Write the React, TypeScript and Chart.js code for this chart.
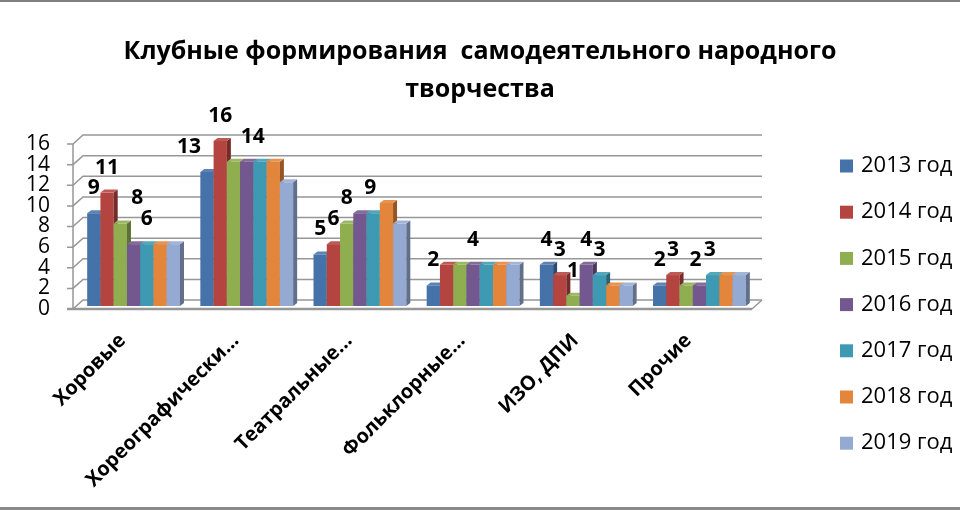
import { useEffect, useRef } from "react";
import { Chart, registerables } from "chart.js";

Chart.register(...registerables);

const categories = ["Хоровые", "Хореографически...", "Театральные...", "Фольклорные...", "ИЗО, ДПИ", "Прочие"];
const seriesNames = ["2013 год", "2014 год", "2015 год", "2016 год", "2017 год", "2018 год", "2019 год"];
const y2013 = [9, 13, 5, 2, 4, 2];
const y2014 = [11, 16, 6, 4, 3, 3];
const y2015 = [8, 14, 8, 4, 1, 2];
const y2016 = [6, 14, 9, 4, 4, 2];
const y2017 = [6, 14, 9, 4, 3, 3];
const y2018 = [6, 14, 10, 4, 2, 3];
const y2019 = [6, 12, 8, 4, 2, 3];
const seriesValues = [y2013, y2014, y2015, y2016, y2017, y2018, y2019];
const yTicks = [0, 2, 4, 6, 8, 10, 12, 14, 16];
const titleLines = ["Клубные формирования  самодеятельного народного", "творчества"];

// which bars carry a value label: [category index, series index]
const labelledPoints: [number, number][] = [
  [0, 0], [0, 1], [0, 2], [0, 4],
  [1, 0], [1, 1], [1, 3],
  [2, 0], [2, 1], [2, 2], [2, 4],
  [3, 0], [3, 3],
  [4, 0], [4, 1], [4, 2], [4, 3], [4, 4],
  [5, 0], [5, 1], [5, 3], [5, 4],
];

// styling / layout (not data)
const colors = ["#4672AA", "#B4443F", "#8FAE50", "#72588F", "#3E9AB2", "#E3853A", "#95AAD3"];
const FONT = "'Open Sans', 'Noto Sans', sans-serif";
const BAR_SHIFT = { x: 4, y: -3 };
const BAR_DEPTH = { x: 4, y: 3 };
const WALL = { x: 10, y: 9 };
const labelNudge: Record<string, number> = { "0-2": 17, "1-0": -18, "1-3": 6, "2-4": -3, "5-3": -4, "5-4": -3 };

function shade(hex: string, f: number) {
  const n = parseInt(hex.slice(1), 16);
  let r = (n >> 16) & 255, g = (n >> 8) & 255, b = n & 255;
  if (f < 0) {
    r = Math.round(r * (1 + f)); g = Math.round(g * (1 + f)); b = Math.round(b * (1 + f));
  } else {
    r = Math.round(r + (255 - r) * f); g = Math.round(g + (255 - g) * f); b = Math.round(b + (255 - b) * f);
  }
  return `rgb(${r},${g},${b})`;
}

const framePlugin = {
  id: "frame",
  beforeDraw(chart: any) {
    const { ctx, width, height } = chart;
    ctx.save();
    ctx.fillStyle = "#ffffff";
    ctx.fillRect(0, 0, width, height);
    ctx.fillStyle = "#7f7f7f";
    ctx.fillRect(0, 0, width, 2);
    ctx.fillStyle = "#8a8a8a";
    ctx.fillRect(0, height - 3, width, 3);
    ctx.restore();
  },
  beforeDatasetsDraw(chart: any) {
    const { ctx, chartArea } = chart;
    const ys = chart.scales.y;
    const { left, right } = chartArea;
    ctx.save();
    ctx.strokeStyle = "#979797";
    ctx.lineWidth = 1.5;
    yTicks.forEach((v) => {
      const y = ys.getPixelForValue(v);
      ctx.beginPath();
      ctx.moveTo(left - 6, y);
      ctx.lineTo(left, y);
      ctx.lineTo(left + WALL.x, y - WALL.y);
      ctx.lineTo(right + WALL.x, y - WALL.y);
      ctx.stroke();
    });
    ctx.beginPath();
    ctx.moveTo(left, ys.getPixelForValue(yTicks[yTicks.length - 1]));
    ctx.lineTo(left, ys.getPixelForValue(0));
    ctx.stroke();
    const y0 = ys.getPixelForValue(0);
    ctx.beginPath();
    ctx.moveTo(right, y0);
    ctx.lineTo(right + WALL.x, y0 - WALL.y);
    ctx.stroke();
    ctx.lineWidth = 2.5;
    ctx.beginPath();
    ctx.moveTo(left - 6, y0);
    ctx.lineTo(right, y0);
    ctx.stroke();
    ctx.restore();
  },
  afterDatasetsDraw(chart: any) {
    const { ctx } = chart;
    ctx.save();
    ctx.translate(BAR_SHIFT.x, BAR_SHIFT.y);
    chart.data.datasets.forEach((ds: any, di: number) => {
      const meta = chart.getDatasetMeta(di);
      const c = colors[di];
      meta.data.forEach((bar: any) => {
        const { x, y, base, width } = bar.getProps(["x", "y", "base", "width"], true);
        const l = x - width / 2;
        const r = x + width / 2;
        const dx = BAR_DEPTH.x, dy = BAR_DEPTH.y;
        ctx.fillStyle = c;
        ctx.fillRect(l, y, r - l, base - y);
        ctx.fillStyle = shade(c, -0.35);
        ctx.beginPath();
        ctx.moveTo(r, y); ctx.lineTo(r + dx, y - dy); ctx.lineTo(r + dx, base - dy); ctx.lineTo(r, base);
        ctx.closePath(); ctx.fill();
        ctx.fillStyle = shade(c, 0.12);
        ctx.beginPath();
        ctx.moveTo(l, y); ctx.lineTo(l + dx, y - dy); ctx.lineTo(r + dx, y - dy); ctx.lineTo(r, y);
        ctx.closePath(); ctx.fill();
      });
    });
    ctx.restore();

    ctx.save();
    ctx.font = `bold 21px ${FONT}`;
    ctx.fillStyle = "#000";
    ctx.textAlign = "center";
    ctx.textBaseline = "middle";
    labelledPoints.forEach(([ci, si]) => {
      const bar = chart.getDatasetMeta(si).data[ci];
      const { x, y } = bar.getProps(["x", "y"], true);
      const nudge = labelNudge[`${ci}-${si}`] || 0;
      ctx.fillText(String(seriesValues[si][ci]), x + BAR_SHIFT.x + nudge, y + BAR_SHIFT.y - 25);
    });
    ctx.restore();

    const { chartArea } = chart;
    ctx.save();
    ctx.font = `22px ${FONT}`;
    ctx.textBaseline = "middle";
    ctx.textAlign = "left";
    chart.data.datasets.forEach((ds: any, di: number) => {
      const cy = 166 + di * 46.2;
      const lx = chartArea.right + 88;
      ctx.fillStyle = colors[di];
      ctx.fillRect(lx, cy - 6.5, 13, 13);
      ctx.fillStyle = "#000";
      ctx.fillText(ds.label, lx + 21, cy);
    });
    ctx.restore();
  },
};

export default function App() {
  const ref = useRef<HTMLCanvasElement | null>(null);
  useEffect(() => {
    if (!ref.current) return;
    const chart = new Chart(ref.current, {
      type: "bar",
      data: {
        labels: categories,
        datasets: seriesValues.map((vals, i) => ({
          label: seriesNames[i],
          data: vals,
          backgroundColor: "rgba(0,0,0,0)",
          borderWidth: 0,
          categoryPercentage: 0.82,
          barPercentage: 1,
        })),
      },
      options: {
        animation: false,
        responsive: true,
        maintainAspectRatio: false,
        layout: { padding: 0 },
        plugins: {
          legend: { display: false },
          tooltip: { enabled: false },
          title: {
            display: true,
            text: titleLines,
            color: "#000",
            font: { family: FONT, size: 25, weight: "bold", lineHeight: 1.52 },
            padding: { top: 33, bottom: 35 },
          },
        },
        scales: {
          x: {
            grid: { display: false, drawTicks: false },
            border: { display: false },
            ticks: {
              color: "#000",
              font: { family: FONT, size: 20, weight: "bold" },
              minRotation: 45,
              maxRotation: 45,
              padding: 20,
              labelOffset: -7,
              autoSkip: false,
            },
            afterFit(s: any) { s.height = 201; },
          },
          y: {
            min: 0,
            max: 16,
            grid: { display: false, drawTicks: false },
            border: { display: false },
            ticks: {
              stepSize: 2,
              autoSkip: false,
              color: "#000",
              font: { family: FONT, size: 21, lineHeight: 1 },
              padding: 23,
            },
            afterFit(s: any) { s.width = 73; },
          },
          spacer: {
            position: "right",
            display: true,
            grid: { display: false, drawTicks: false },
            border: { display: false },
            ticks: { display: false },
            afterFit(s: any) { s.width = 208; },
          },
        },
      },
      plugins: [framePlugin],
    });
    return () => chart.destroy();
  }, []);
  return (
    <div style={{ position: "absolute", left: 0, top: 0, width: 960, height: 510 }}>
      <canvas ref={ref} />
    </div>
  );
}
